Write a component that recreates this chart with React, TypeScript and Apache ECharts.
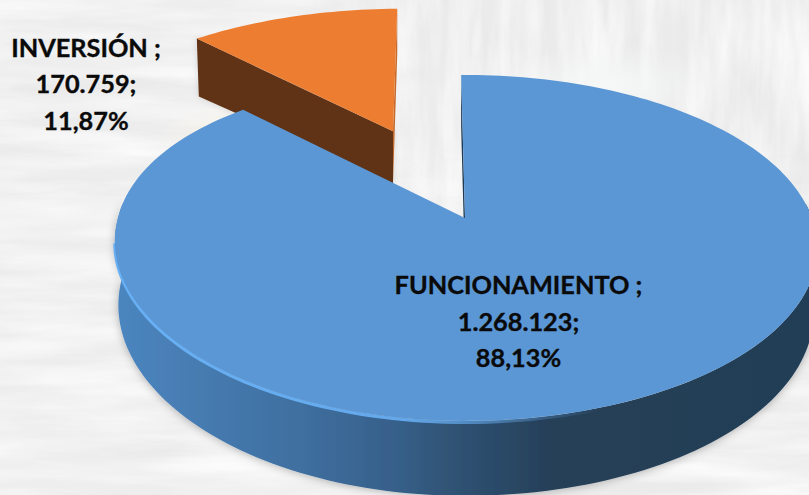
import React, { useEffect, useRef } from "react";
import * as echarts from "echarts";

const categories = ["FUNCIONAMIENTO", "INVERSIÓN"];
const values = [1268123, 170759];
const percentLabels = ["88,13%", "11,87%"];
const valueLabels = ["1.268.123", "170.759"];
const explode = [0, 0.62];

const W = 809;
const H = 495;
const START_DEG = -0.7;
const CX = 465, CY = 218, BX = 347, AY = 167.8, PERSP = 0.173;

const bgSvg = `<svg xmlns="http://www.w3.org/2000/svg" width="${W}" height="${H}">
<defs>
<filter id="h" x="0" y="0" width="100%" height="100%"><feTurbulence type="fractalNoise" baseFrequency="0.006 0.05" numOctaves="4" seed="4"/><feColorMatrix values="0 0 0 0 1 0 0 0 0 1 0 0 0 0 1 1.5 0 0 0 -0.52"/></filter>
<filter id="hd" x="0" y="0" width="100%" height="100%"><feTurbulence type="fractalNoise" baseFrequency="0.005 0.05" numOctaves="3" seed="11"/><feColorMatrix values="0 0 0 0 0.78 0 0 0 0 0.78 0 0 0 0 0.78 1.2 0 0 0 -0.55"/></filter>
<filter id="v" x="0" y="0" width="100%" height="100%"><feTurbulence type="fractalNoise" baseFrequency="0.05 0.008" numOctaves="4" seed="8"/><feColorMatrix values="0 0 0 0 1 0 0 0 0 1 0 0 0 0 1 1.5 0 0 0 -0.52"/></filter>
<filter id="vd" x="0" y="0" width="100%" height="100%"><feTurbulence type="fractalNoise" baseFrequency="0.05 0.008" numOctaves="3" seed="21"/><feColorMatrix values="0 0 0 0 0.78 0 0 0 0 0.78 0 0 0 0 0.78 1.2 0 0 0 -0.55"/></filter>
<linearGradient id="mgx" x1="0" y1="0" x2="1" y2="0"><stop offset="0.38" stop-color="#000"/><stop offset="0.55" stop-color="#fff"/></linearGradient>
<linearGradient id="mgy" x1="0" y1="0" x2="0" y2="1"><stop offset="0.3" stop-color="#fff"/><stop offset="0.5" stop-color="#000"/></linearGradient>
<mask id="mx"><rect width="${W}" height="${H}" fill="url(#mgx)"/></mask>
<mask id="my"><rect width="${W}" height="${H}" fill="url(#mgy)"/></mask>
<radialGradient id="g1"><stop offset="0" stop-color="#fbf4e4"/><stop offset="1" stop-color="#fbf4e4" stop-opacity="0"/></radialGradient>
<radialGradient id="g2"><stop offset="0" stop-color="#f6f7f7"/><stop offset="1" stop-color="#f6f7f7" stop-opacity="0"/></radialGradient>
</defs>
<rect width="${W}" height="${H}" fill="#eeeeee"/>
<rect width="${W}" height="${H}" filter="url(#hd)"/>
<rect width="${W}" height="${H}" filter="url(#h)"/>
<g mask="url(#mx)"><g mask="url(#my)"><rect width="${W}" height="${H}" fill="#ebebeb"/><rect width="${W}" height="${H}" filter="url(#vd)"/><rect width="${W}" height="${H}" filter="url(#v)"/></g></g>
<ellipse cx="250" cy="140" rx="90" ry="40" fill="url(#g1)"/>
<ellipse cx="610" cy="85" rx="110" ry="40" fill="url(#g2)"/>
</svg>`;

type Pt = [number, number];

function project(u: number, v: number): Pt {
  const d = 1 + PERSP * v;
  return [CX + (BX * u) / d, CY - (AY * v) / d];
}

function rad(deg: number) {
  return (deg * Math.PI) / 180;
}

function arcPoints(
  u0: number,
  v0: number,
  a0: number,
  a1: number,
  r = 1,
  skew0 = 0,
  skew1 = 0,
  warped = false
): Pt[] {
  const n = Math.max(8, Math.ceil(Math.abs(a1 - a0) / 1.5));
  const pts: Pt[] = [];
  for (let i = 0; i <= n; i++) {
    const t = i / n;
    const a = rad(a0 + (a1 - a0) * t);
    const p = project(u0 + r * Math.sin(a), v0 + r * Math.cos(a));
    const c = Math.cos(a);
    const k = c > 0 ? WARP_UPPER : WARP_LOWER;
    const w = warped ? k * c * Math.min(Math.sin(a), 0) : 0;
    pts.push([p[0] + skew0 + (skew1 - skew0) * t + w, p[1]]);
  }
  return pts;
}

function poly(points: Pt[], fill: any, z2: number, extra: any = {}) {
  return { type: "polygon", z2, shape: { points }, style: { fill, ...extra }, silent: true };
}

const total = values.reduce((s, x) => s + x, 0);
const WARP_UPPER = 20;
const WARP_LOWER = 14;

function renderSlice(params: any, api: any) {
  const i = params.dataIndex;
  const value = api.value(0) as number;
  let before = 0;
  for (let k = 0; k < i; k++) before += values[k];
  const a0 = START_DEG + (before / total) * 360;
  const a1 = a0 + (value / total) * 360;
  const mid = rad((a0 + a1) / 2);
  const e = explode[i];
  const u0 = e * Math.sin(mid);
  const v0 = e * Math.cos(mid);
  const apex = project(u0, v0);
  const children: any[] = [];

  if (i === 0) {
    const sideGrad = new echarts.graphic.LinearGradient(113, 0, 809, 0, [
      { offset: 0, color: "#4c86c0" },
      { offset: 0.27, color: "#3f6f9f" },
      { offset: 0.41, color: "#365f89" },
      { offset: 0.48, color: "#305476" },
      { offset: 0.63, color: "#263f58" },
      { offset: 1, color: "#233e56" },
    ], true);
    const rimTop = arcPoints(0, 0, 85, 275, 1, 0, 0, true);
    const rimBottom = rimTop.map((p, k) => {
      const a = rad(85 + (190 * k) / (rimTop.length - 1));
      const d = 62 - 13 * Math.cos(a);
      return [CX + (p[0] - CX) * 0.99, p[1] + d] as Pt;
    });
    children.push(
      poly([...rimTop, ...rimBottom.slice().reverse()], sideGrad, 2, {
        shadowBlur: 9,
        shadowColor: "rgba(0,0,0,0.28)",
        shadowOffsetY: 1,
      })
    );
    const top = arcPoints(0, 0, a0, a1, 1, 0, 0, true);
    const d = 52;
    children.push(poly([apex, top[0], [top[0][0], top[0][1] + d], [apex[0], apex[1] + d]], "#1f3a52", 3));
    children.push(poly([apex, ...top], "#5b97d5", 5));
    const rimGrad = new echarts.graphic.LinearGradient(113, 0, 600, 0, [
      { offset: 0, color: "rgba(104,176,245,1)" },
      { offset: 0.6, color: "rgba(104,176,245,0.9)" },
      { offset: 1, color: "rgba(104,176,245,0)" },
    ], true);
    children.push({
      type: "polyline",
      z2: 4,
      silent: true,
      shape: { points: arcPoints(0, 0, 150, 262, 1, 0, 0, true).map((p) => [p[0], p[1] + 1.5]) },
      style: { stroke: rimGrad, lineWidth: 3.2, fill: "none" },
    });
  } else {
    const top = arcPoints(u0, v0, a0, a1, 1.015, -5, -1);
    const left = top[0];
    const right = top[top.length - 1];
    const ax: Pt = [apex[0] + 1.5, apex[1] + 1];
    const dA = 52, dL = 58, dR = 45;
    children.push(
      poly([left, ax, [ax[0], ax[1] + dA], [left[0] + 2, left[1] + dL]], "#613214", 1, {
        shadowBlur: 6,
        shadowColor: "rgba(0,0,0,0.14)",
      })
    );
    children.push(poly([right, ax, [ax[0], ax[1] + dA], [right[0], right[1] + dR]], "#c56a2b", 1));
    children.push(poly([ax, ...top], "#ed7d31", 1));
  }
  return { type: "group", children };
}

function labelText(i: number) {
  return `${categories[i]} ;\n${valueLabels[i]};\n${percentLabels[i]}`;
}

const labelAnchors: Pt[] = [
  [518.5, 320.5],
  [86, 83],
];

export default function App() {
  const ref = useRef<HTMLDivElement>(null);
  useEffect(() => {
    document.body.style.margin = "0";
    const chart = echarts.init(ref.current!, null, { renderer: "svg" });
    chart.setOption({
      animation: false,
      backgroundColor: "transparent",
      series: [
        {
          type: "custom",
          coordinateSystem: "none",
          silent: true,
          data: categories.map((name, i) => ({ name, value: values[i] })),
          renderItem: renderSlice,
        },
      ],
      graphic: labelAnchors.map((p, i) => ({
        type: "text",
        x: p[0],
        y: p[1],
        z: 10,
        silent: true,
        style: {
          text: labelText(i),
          fontFamily: "Lato",
          fontWeight: "bold",
          fontSize: 25.3,
          lineHeight: 36.5,
          fill: "#0a0a0a",
          stroke: "#0a0a0a",
          lineWidth: 0.35,
          align: "center",
          verticalAlign: "middle",
        },
      })),
    });
    return () => chart.dispose();
  }, []);
  return (
    <div
      ref={ref}
      style={{
        width: W,
        height: H,
        overflow: "hidden",
        backgroundImage: `url("data:image/svg+xml,${encodeURIComponent(bgSvg)}")`,
      }}
    />
  );
}
